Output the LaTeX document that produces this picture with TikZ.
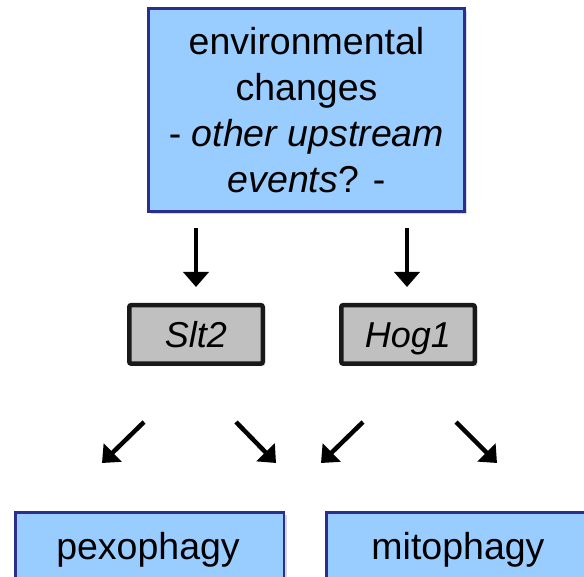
\documentclass[tikz,border=0pt]{standalone}
\usepackage{fontspec}
\setmainfont{Liberation Sans}
\usetikzlibrary{arrows.meta,shadows}
\definecolor{boxblue}{HTML}{99CCFF}
\definecolor{boxedge}{HTML}{2B2E8C}
\definecolor{genegray}{HTML}{C0C0C0}
\begin{document}
\begin{tikzpicture}[x=1pt,y=-1pt,
  bluebox/.style={draw=boxedge, line width=2.7pt, fill=boxblue, inner sep=0pt,
    drop shadow={shadow xshift=2.5pt, shadow yshift=-2.5pt, fill=black!30}},
  genebox/.style={draw=black!90, line width=4.5pt, fill=genegray, inner sep=0pt,
    rounded corners=2pt, minimum width=133.5pt, minimum height=58.5pt,
    text height=26pt, text depth=0pt,
    drop shadow={shadow xshift=2.5pt, shadow yshift=-2.5pt, fill=black!30},
    font=\fontsize{36}{42}\selectfont\itshape},
  txt/.style={inner sep=0pt, font=\fontsize{37.5}{45}\selectfont},
  arr/.style={line width=4.5pt, -{Triangle[length=15pt,width=25pt]}}]
\useasboundingbox (0,0) rectangle (584,577);
\clip (0,0) rectangle (584,577);

% top box
\node[bluebox, minimum width=316pt, minimum height=203pt, align=center,
  font=\fontsize{37.5}{46}\selectfont] (env) at (306.5,110)
  {environmental\\changes\\ - \textit{other upstream}\\\textit{events}? -};

% gene boxes
\node[genebox] (slt) at (196,334.4) {Slt2};
\node[genebox] (hog) at (408,334.4) {Hog1};

% bottom boxes
\node[bluebox, anchor=north west, minimum width=268.3pt, minimum height=100pt] (pexbox) at (14.35,511.35) {};
\node[bluebox, anchor=north west, minimum width=320pt, minimum height=100pt] (mitobox) at (325.35,511.35) {};
\node[txt, anchor=base] (pex) at (148,559) {pexophagy};
\node[txt, anchor=base] (mito) at (458,559) {mitophagy};

% arrow end coordinates
\coordinate (a1s) at (196,228); \coordinate (a1e) at (196,287);
\coordinate (a2s) at (407,228); \coordinate (a2e) at (407,287);
\coordinate (d1s) at (144,422); \coordinate (d1e) at (102,463);
\coordinate (d2s) at (236,422); \coordinate (d2e) at (276,463);
\coordinate (d3s) at (363,422); \coordinate (d3e) at (321,463);
\coordinate (d4s) at (456,422); \coordinate (d4e) at (497,463);

\draw[arr] (a1s) -- (a1e);
\draw[arr] (a2s) -- (a2e);
\draw[arr] (d1s) -- (d1e);
\draw[arr] (d2s) -- (d2e);
\draw[arr] (d3s) -- (d3e);
\draw[arr] (d4s) -- (d4e);
\end{tikzpicture}
\end{document}
